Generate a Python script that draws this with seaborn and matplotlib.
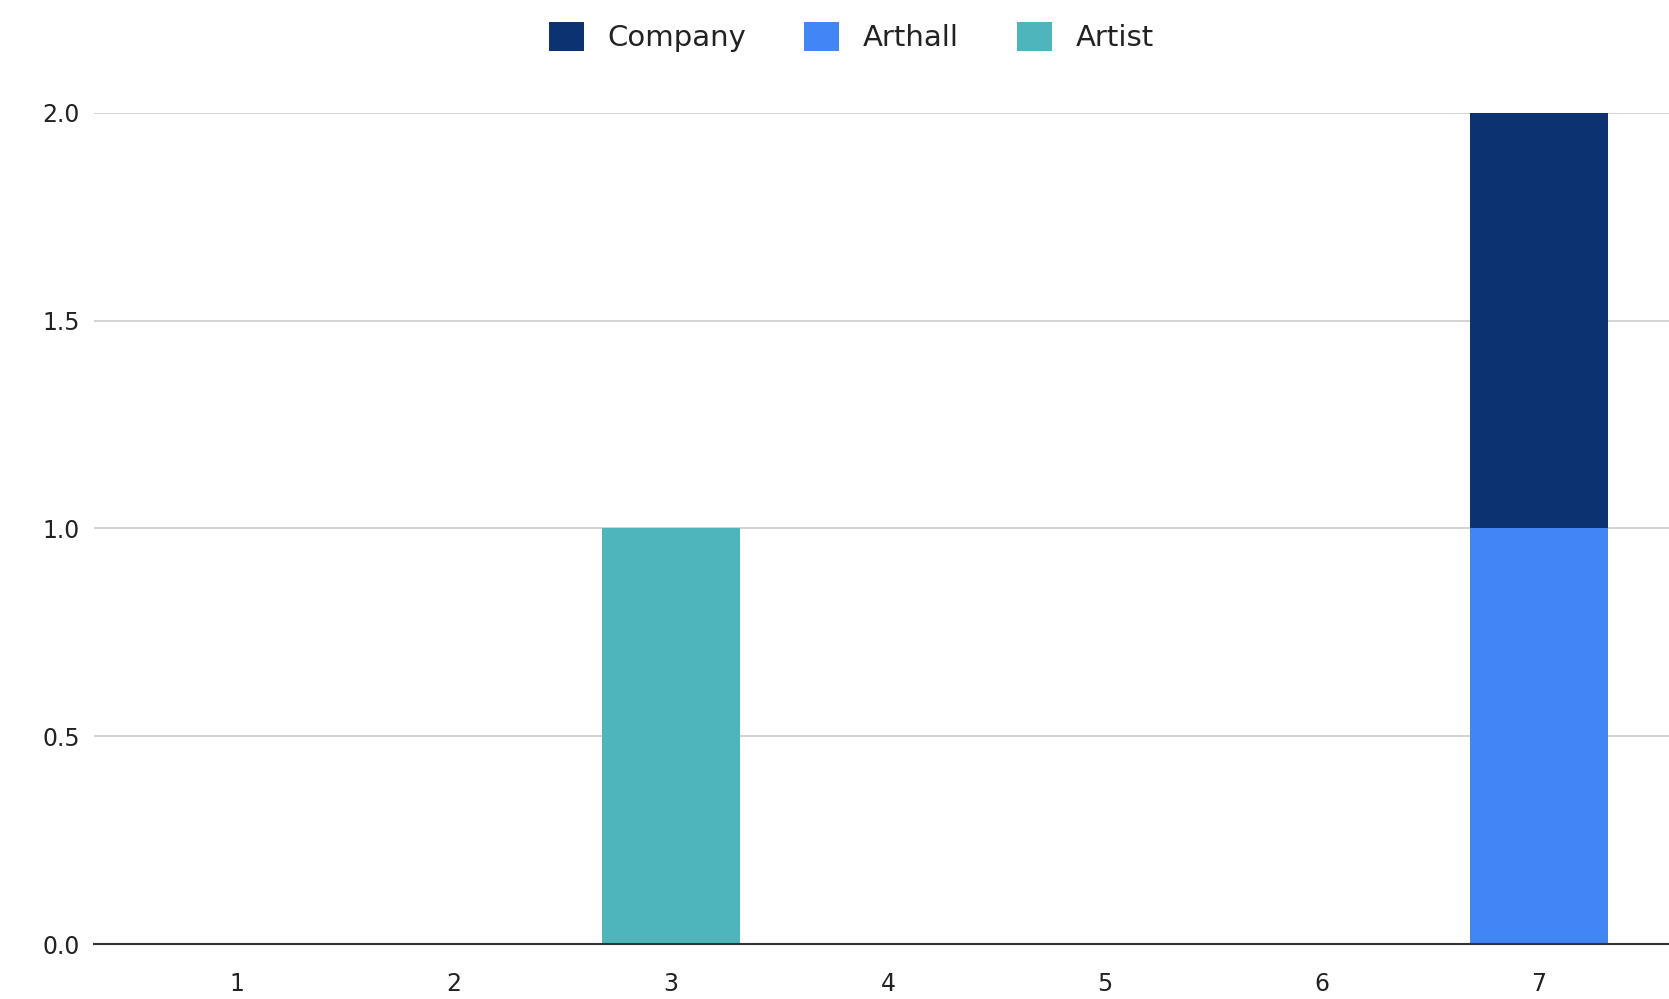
import matplotlib
matplotlib.use("Agg")
import matplotlib.pyplot as plt
import seaborn as sns
import numpy as np
import pandas as pd
from matplotlib.patches import Patch

categories = ["1", "2", "3", "4", "5", "6", "7"]
company = [0, 0, 0, 0, 0, 0, 1]
arthall = [0, 0, 0, 0, 0, 0, 1]
artist = [0, 0, 1, 0, 0, 0, 0]
series_names = ["Company", "Arthall", "Artist"]
colors = {"Company": "#0c3272", "Arthall": "#4285f4", "Artist": "#4fb5bc"}
yticks = [0.0, 0.5, 1.0, 1.5, 2.0]

sns.set_theme(style="white")
plt.rcParams["font.family"] = ["DejaVu Sans"]

fig = plt.figure(figsize=(16.69, 9.99), dpi=100)
ax = fig.add_axes([0.0563, 0.055, 0.9437, 0.832])

df = pd.DataFrame({"cat": categories, "Company": company, "Arthall": arthall, "Artist": artist})
bottom_company = np.array(arthall, dtype=float)
bottom_artist = bottom_company + np.array(company, dtype=float)

sns.barplot(data=df, x="cat", y="Arthall", color=colors["Arthall"], width=0.636,
            saturation=1, ax=ax, linewidth=0, order=categories)
sns.barplot(data=df, x="cat", y="Company", color=colors["Company"], width=0.636,
            saturation=1, ax=ax, linewidth=0, bottom=bottom_company, order=categories)
sns.barplot(data=df, x="cat", y="Artist", color=colors["Artist"], width=0.636,
            saturation=1, ax=ax, linewidth=0, bottom=bottom_artist, order=categories)

ax.set_xlim(-0.66, 6.6)
ax.set_ylim(0, 2.0)
ax.set_yticks(yticks)
ax.set_yticklabels([f"{v:.1f}" for v in yticks])
ax.set_xlabel("")
ax.set_ylabel("")
ax.yaxis.grid(True, color="#cccccc", linewidth=1.2)
ax.set_axisbelow(True)
for s in ["top", "right", "left"]:
    ax.spines[s].set_visible(False)
ax.spines["bottom"].set_color("#333333")
ax.spines["bottom"].set_linewidth(1.5)
ax.spines["bottom"].set_zorder(5)
ax.tick_params(axis="both", length=0, labelsize=17, colors="#222222")
ax.tick_params(axis="x", pad=20)
ax.tick_params(axis="y", pad=10)

handles = [Patch(facecolor=colors[n], edgecolor="none", label=n) for n in series_names]
fig.legend(handles=handles, loc="center", bbox_to_anchor=(0.51, 0.963), ncol=3,
           frameon=False, fontsize=21, handlelength=1.2, handleheight=1.2,
           columnspacing=2.0, handletextpad=0.8, labelcolor="#222222")

fig.savefig("out.png", dpi=100, facecolor="white")
